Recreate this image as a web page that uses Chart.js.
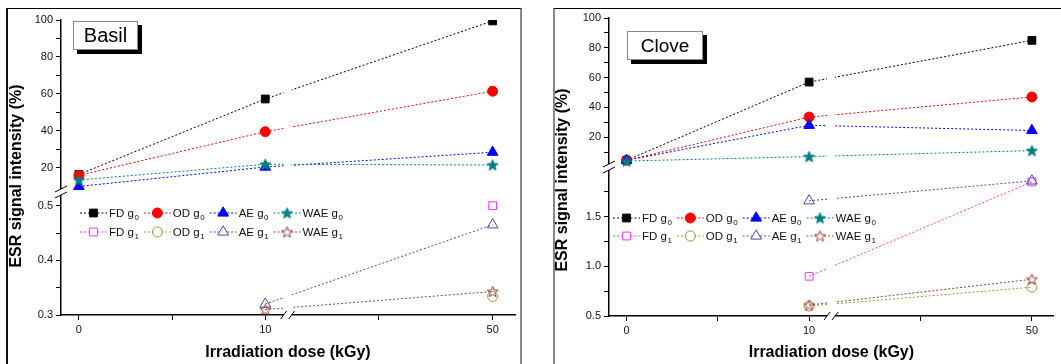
<!DOCTYPE html>
<html>
<head>
<meta charset="utf-8">
<script src="https://cdn.jsdelivr.net/npm/chart.js@4"></script>
<style>
  body { margin: 0; background: #fff; }
  #wrap { position: relative; width: 1061px; height: 364px; overflow: hidden; font-family: 'Liberation Sans', Arial, sans-serif; }
  .frame { position: absolute; box-sizing: border-box; }
  #frameBasil { left: 6px; top: 8px; width: 516px; height: 420px; border-top: 1px solid #000; border-left: 2px solid #111; border-right: 2px solid #888; }
  #frameClove { left: 553px; top: 8px; width: 520px; height: 420px; border-top: 1px solid #000; border-left: 2px solid #888; }
  canvas { position: absolute; top: 0; }
  .tag { position: absolute; box-sizing: border-box; background: #fff; border: 1px solid #888; box-shadow: 4px 4px 0 #000; text-align: center; color: #000; }
  #tagBasil { left: 73px; top: 21px; width: 65px; height: 29px; font-size: 20px; line-height: 27px; }
  #tagClove { left: 627px; top: 31px; width: 76px; height: 29px; font-size: 19px; line-height: 27px; }
</style>
</head>
<body>
<div id="wrap">
  <div class="frame" id="frameBasil"></div>
  <div class="frame" id="frameClove"></div>
  <canvas id="basilChart" width="530" height="364" style="left:0;width:530px;height:364px"></canvas>
  <canvas id="cloveChart" width="531" height="364" style="left:530px;width:531px;height:364px"></canvas>
  <div class="tag" id="tagBasil">Basil</div>
  <div class="tag" id="tagClove">Clove</div>
</div>
<script>
Chart.defaults.font.family = "'Liberation Sans', Arial, sans-serif";
Chart.defaults.color = '#111';

// irradiation doses (kGy) and x-axis ticks
const doses = [0, 10, 50];
const xTickDoses = [0, 5, 10, 30, 50];
const xTickLabels = ['0', '', '10', '', '50'];

const seriesNames = ['FD', 'OD', 'AE', 'WAE'];

// Basil - g0 (upper part of the broken axis, %)
const basilFDg0 = [16.5, 57.3, 99.5];
const basilODg0 = [16, 39.6, 61.5];
const basilAEg0 = [10, 20.5, 28.5];
const basilWAEg0 = [13.5, 22, 21.6];
// Basil - g1 (lower part)
const basilFDg1 = [null, null, 0.5];
const basilODg1 = [null, null, 0.334];
const basilAEg1 = [null, 0.32, 0.465];
const basilWAEg1 = [null, 0.31, 0.343];

const basilTopTicks = [20, 30, 40, 50, 60, 70, 80, 90, 100];
const basilTopLabels = ['20', '', '40', '', '60', '', '80', '', '100'];
const basilLowTicks = [0.3, 0.35, 0.4, 0.45, 0.5];
const basilLowLabels = ['0.3', '', '0.4', '', '0.5'];

// Clove - g0
const cloveFDg0 = [4.5, 57, 85];
const cloveODg0 = [4.5, 33.5, 47];
const cloveAEg0 = [4.5, 28, 24.5];
const cloveWAEg0 = [4, 7, 11];
// Clove - g1
const cloveFDg1 = [null, 0.9, 1.85];
const cloveODg1 = [null, 0.6, 0.79];
const cloveAEg1 = [null, 1.66, 1.86];
const cloveWAEg1 = [null, 0.61, 0.87];

const cloveTopTicks = [10, 20, 30, 40, 50, 60, 70, 80, 90, 100];
const cloveTopLabels = ['', '20', '', '40', '', '60', '', '80', '', '100'];
const cloveLowTicks = [0.5, 0.75, 1, 1.25, 1.5, 1.75];
const cloveLowLabels = ['0.5', '', '1.0', '', '1.5', ''];

// x axis is broken after 10: the 10-50 part is squeezed
const axisPos = d => d <= 10 ? d : 10 + (d - 10) * 0.305;
const BREAK_POS = 11.2;

function star(fill, stroke) {
  const c = document.createElement('canvas');
  c.width = 13; c.height = 13;
  const g = c.getContext('2d');
  g.beginPath();
  for (let k = 0; k < 10; k++) {
    const r = k % 2 ? 2.4 : 5.8;
    const a = -Math.PI / 2 + k * Math.PI / 5;
    g.lineTo(6.5 + r * Math.cos(a), 7 + r * Math.sin(a));
  }
  g.closePath();
  if (fill) { g.fillStyle = fill; g.fill(); }
  g.strokeStyle = stroke; g.lineWidth = 1; g.stroke();
  return c;
}

const g0Style = [
  {color: '#000000', point: 'rect', r: 5.5},
  {color: '#ff0000', point: 'circle', r: 5},
  {color: '#0000ff', point: 'triangle', r: 6.2},
  {color: '#008080', point: star('#008080', '#008080'), r: 6}
];
const g1Style = [
  {color: '#ff33ff', point: 'rect', r: 5.5},
  {color: '#99993a', point: 'circle', r: 5},
  {color: '#4a4aa8', point: 'triangle', r: 6.2},
  {color: '#a23b3b', point: star(null, '#a23b3b'), r: 6}
];

function makeSet(name, sub, values, st, filled, axis, i) {
  return {
    label: name + ' g' + sub,
    data: doses.map((d, k) => ({x: axisPos(d), y: values[k]})),
    yAxisID: axis,
    borderColor: st.color,
    borderWidth: 1,
    borderDash: [2, 2],
    pointStyle: st.point,
    pointRadius: st.r,
    pointBorderColor: st.color,
    pointBackgroundColor: filled ? st.color : 'rgba(0,0,0,0)',
    pointBorderWidth: 1,
    order: -i
  };
}

function buildSets(g0, g1) {
  const sets = [];
  g0.forEach((v, i) => sets.push(makeSet(seriesNames[i], '0', v, g0Style[i], true, 'yTop', i)));
  g1.forEach((v, i) => sets.push(makeSet(seriesNames[i], '1', v, g1Style[i], false, 'yLow', i + 4)));
  return sets;
}

function yAxis(min, max, ticks, labels, weight) {
  return {
    type: 'linear', position: 'left', stack: 'v', stackWeight: weight,
    min: min, max: max,
    afterBuildTicks: s => { s.ticks = ticks.map(v => ({value: v})); },
    ticks: {autoSkip: false, color: '#111', font: {size: 11}, padding: 3, callback: (v, i) => labels[i]},
    grid: {drawOnChartArea: false, tickLength: 5, color: '#000'},
    border: {color: '#000', width: 1.5},
    afterFit: s => { s.width = 30; }
  };
}

const breakPlugin = {
  id: 'breaks',
  afterDatasetsDraw(chart) {
    const {ctx, chartArea, scales} = chart;
    const xb = scales.x.getPixelForValue(BREAK_POS);
    ctx.save();
    ctx.fillStyle = '#fff';
    ctx.fillRect(xb - 4, chartArea.top, 8, chartArea.bottom - chartArea.top + 2);
    ctx.strokeStyle = '#000';
    ctx.lineWidth = 1;
    [-4, 4].forEach(dx => {
      ctx.beginPath();
      ctx.moveTo(xb + dx - 3, chartArea.bottom + 4);
      ctx.lineTo(xb + dx + 3, chartArea.bottom - 4);
      ctx.stroke();
    });
    const yb = scales.yLow.top;
    const xl = chartArea.left;
    ctx.fillRect(xl - 2, yb - 3, 4, 6);
    [-3, 3].forEach(dy => {
      ctx.beginPath();
      ctx.moveTo(xl - 6, yb + dy + 3);
      ctx.lineTo(xl + 6, yb + dy - 3);
      ctx.stroke();
    });
    ctx.restore();
  }
};

const legendPlugin = {
  id: 'innerLegend',
  afterDraw(chart, args, o) {
    const ctx = chart.ctx;
    const font = "11.5px 'Liberation Sans', Arial, sans-serif";
    const subFont = "8px 'Liberation Sans', Arial, sans-serif";
    ctx.save();
    let x = o.x;
    chart.data.datasets.forEach((ds, i) => {
      if (i % 4 === 0) x = o.x;
      const y = o.rows[Math.floor(i / 4)];
      const cx = x + 13.5;
      ctx.strokeStyle = ds.borderColor;
      ctx.lineWidth = 1;
      ctx.setLineDash([2, 2]);
      ctx.beginPath();
      ctx.moveTo(x, y); ctx.lineTo(cx - 4, y);
      ctx.moveTo(cx + 4, y); ctx.lineTo(x + 27, y);
      ctx.stroke();
      ctx.setLineDash([]);
      ctx.fillStyle = ds.pointBackgroundColor;
      ctx.strokeStyle = ds.pointBorderColor;
      Chart.helpers.drawPoint(ctx, {pointStyle: ds.pointStyle, radius: ds.pointRadius, rotation: 0, borderWidth: 1}, cx, y);
      const main = ds.label.slice(0, -1);
      const sub = ds.label.slice(-1);
      ctx.fillStyle = '#111';
      ctx.textBaseline = 'middle';
      ctx.textAlign = 'left';
      ctx.font = font;
      const tx = x + 29;
      ctx.fillText(main, tx, y + 0.5);
      const w = ctx.measureText(main).width;
      ctx.font = subFont;
      ctx.fillText(sub, tx + w + 0.5, y + 4.5);
      const ws = ctx.measureText(sub).width;
      x = tx + w + 0.5 + ws + 5;
    });
    // y axis title
    ctx.save();
    ctx.translate(o.titleX, o.titleY);
    ctx.rotate(-Math.PI / 2);
    ctx.font = "bold 16px 'Liberation Sans', Arial, sans-serif";
    ctx.fillStyle = '#000';
    ctx.textAlign = 'center';
    ctx.textBaseline = 'middle';
    ctx.fillText('ESR signal intensity (%)', 0, 0);
    ctx.restore();
    ctx.restore();
  }
};

function makePanel(id, sets, yLowAxis, yTopAxis, pad, legendOpts, xHeight) {
  return new Chart(document.getElementById(id), {
    type: 'line',
    data: {datasets: sets},
    options: {
      responsive: false,
      animation: false,
      events: [],
      layout: {padding: pad},
      scales: {
        x: {
          type: 'linear', min: -0.96, max: 23.4,
          afterBuildTicks: s => { s.ticks = xTickDoses.map(d => ({value: axisPos(d)})); },
          ticks: {autoSkip: false, maxRotation: 0, color: '#111', font: {size: 11}, padding: 3, callback: (v, i) => xTickLabels[i]},
          grid: {drawOnChartArea: false, tickLength: 5, color: '#000'},
          border: {color: '#000', width: 1.5},
          title: {display: true, text: 'Irradiation dose (kGy)', color: '#000', font: {size: 16, weight: 'bold'}, padding: {top: 2, bottom: 2}},
          afterFit: s => { s.height = xHeight; }
        },
        // lower part first so the upper part is stacked on top
        yLow: yLowAxis,
        yTop: yTopAxis
      },
      plugins: {
        legend: {display: false},
        tooltip: {enabled: false},
        innerLegend: legendOpts
      }
    },
    plugins: [breakPlugin, legendPlugin]
  });
}

makePanel('basilChart',
  buildSets([basilFDg0, basilODg0, basilAEg0, basilWAEg0], [basilFDg1, basilODg1, basilAEg1, basilWAEg1]),
  yAxis(0.3, 0.525, basilLowTicks, basilLowLabels, 123),
  yAxis(7, 100, basilTopTicks, basilTopLabels, 172),
  {left: 31, top: 20, right: 15, bottom: 0},
  {x: 80, rows: [213, 232], titleX: 17, titleY: 176},
  49);

makePanel('cloveChart',
  buildSets([cloveFDg0, cloveODg0, cloveAEg0, cloveWAEg0], [cloveFDg1, cloveODg1, cloveAEg1, cloveWAEg1]),
  yAxis(0.5, 2.0, cloveLowTicks, cloveLowLabels, 149),
  yAxis(0, 100, cloveTopTicks, cloveTopLabels, 149),
  {left: 49, top: 18, right: 1, bottom: 0},
  {x: 83, rows: [218, 236], titleX: 33, titleY: 180},
  48);
</script>
</body>
</html>
